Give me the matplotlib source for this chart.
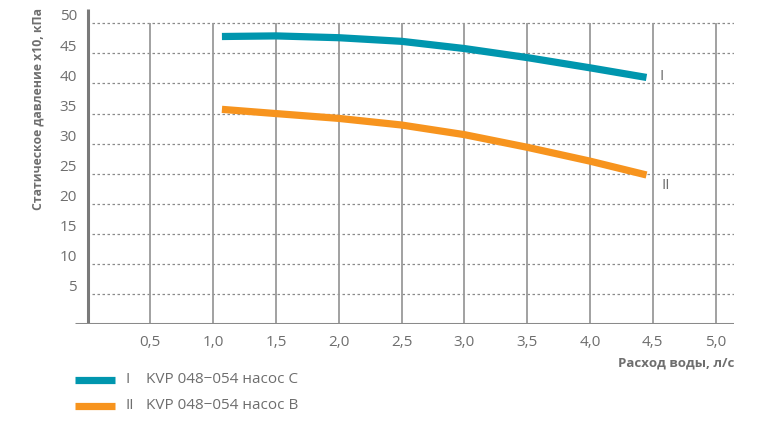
import matplotlib.pyplot as plt
import matplotlib.transforms as mtrans
from matplotlib.lines import Line2D

plt.rcParams['font.family'] = ['Open Sans', 'DejaVu Sans']

# data
flow = [1.07, 1.5, 2.0, 2.5, 3.0, 3.5, 4.0, 4.45]
pres_c = [47.8, 47.9, 47.6, 47.0, 45.8, 44.3, 42.6, 41.0]
pres_b = [35.7, 35.0, 34.2, 33.1, 31.5, 29.4, 27.1, 24.8]
xticks = [0.5, 1.0, 1.5, 2.0, 2.5, 3.0, 3.5, 4.0, 4.5, 5.0]
xtick_labels = ['0,5', '1,0', '1,5', '2,0', '2,5', '3,0', '3,5', '4,0', '4,5', '5,0']
yticks = [5, 10, 15, 20, 25, 30, 35, 40, 45, 50]
series_names = ['KVP 048\u2212054 насос C', 'KVP 048\u2212054 насос B']
series_marks = ['I', 'II']

teal = '#0096ae'
orange = '#f7941e'
gray_txt = '#6e6e6e'

fig = plt.figure(figsize=(7.64, 4.21), dpi=100)
ax = fig.add_axes([0.0982, 0.2297, 0.8626, 0.7508])
ax.set_xlim(-0.0995, 5.147)
ax.set_ylim(0, 52.5)
for s in ax.spines.values():
    s.set_visible(False)

# grid
ax.hlines(yticks, 0.035, 5.15, colors='#8a8a8a', linestyles=(0, (2, 2)), lw=0.9, zorder=1)
ax.vlines(xticks, 0, 50, colors='#9a9a9a', lw=1.3, zorder=1)
ax.plot([0, 0], [0, 52.3], color='#7a7a7a', lw=2.2, zorder=2, solid_capstyle='butt')
ax.plot([-0.0995, 5.147], [0, 0], color='#8a8a8a', lw=2.2, zorder=2, solid_capstyle='butt')

# curves
ax.plot(flow, pres_c, color=teal, lw=5.2, solid_capstyle='butt', zorder=3)
ax.plot(flow, pres_b, color=orange, lw=5.2, solid_capstyle='butt', zorder=3)
ax.text(4.55, 41.1, series_marks[0], color=gray_txt, fontsize=11, va='center', ha='left')
ax.text(4.57, 23.1, series_marks[1], color=gray_txt, fontsize=11, va='center', ha='left')

ax.set_xticks(xticks, xtick_labels)
ax.set_yticks(yticks, [str(v) for v in yticks])
ax.tick_params(length=0, labelsize=11, labelcolor=gray_txt)
ax.tick_params(axis='x', pad=8)
ax.tick_params(axis='y', pad=-1.5)
off = mtrans.ScaledTranslation(0, 6 / 72, fig.dpi_scale_trans)
for lab in ax.get_yticklabels():
    lab.set_transform(lab.get_transform() + off)

fig.text(0.05, 0.74, 'Статическое давление x10, кПа', rotation=90, ha='center', va='center',
         fontsize=8.8, fontweight='bold', color=gray_txt)
fig.text(0.961, 0.138, 'Расход воды, л/с', ha='right', va='center',
         fontsize=9.5, fontweight='bold', color=gray_txt)

# legend
for i, (col, yy) in enumerate(zip([teal, orange], [0.0974, 0.0363])):
    fig.add_artist(Line2D([0.098, 0.151], [yy, yy], color=col, lw=5.2, solid_capstyle='butt'))
    fig.text(0.164, yy, series_marks[i], color=gray_txt, fontsize=11, va='center')
    fig.text(0.191, yy, series_names[i], color=gray_txt, fontsize=11, va='center')

fig.savefig('out.png', dpi=100)
